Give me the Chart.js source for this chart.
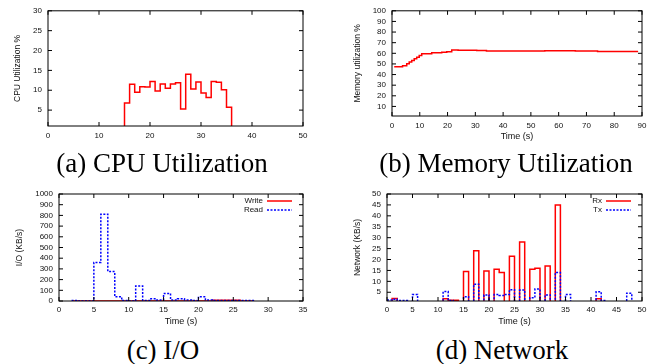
<!DOCTYPE html>
<html>
<head>
<meta charset="utf-8">
<script src="https://cdn.jsdelivr.net/npm/chart.js@4.4.1/dist/chart.umd.min.js"></script>
<style>
  body { margin: 0; background: #fff; width: 657px; height: 364px; position: relative; overflow: hidden; }
  canvas { position: absolute; }
  .cap { position: absolute; font-family: "Liberation Serif", "Times New Roman", serif; font-size: 27px;
         line-height: 27px; white-space: nowrap; transform: translateX(-50%); color: #000; }
</style>
</head>
<body>
<canvas id="cpu" width="330" height="150" style="left:0;top:0"></canvas>
<canvas id="mem" width="327" height="150" style="left:330px;top:0"></canvas>
<canvas id="io" width="330" height="150" style="left:0;top:180px"></canvas>
<canvas id="net" width="327" height="150" style="left:330px;top:180px"></canvas>
<div class="cap" style="left:162px;top:150px">(a) CPU Utilization</div>
<div class="cap" style="left:506px;top:150px">(b) Memory Utilization</div>
<div class="cap" style="left:163px;top:337px">(c) I/O</div>
<div class="cap" style="left:502px;top:337px">(d) Network</div>
<script>
const $ = id => document.getElementById(id);

// (a) CPU - value holds from time[i] to time[i+1]
const cpuTime = [14, 15, 16, 17, 18, 19, 20, 21, 22, 23, 24, 25, 26, 27, 28, 29, 30, 31, 32, 33, 34, 35, 36];
const cpuUtil = [0, 6.8, 11.5, 9.5, 10.9, 10.8, 12.2, 9.8, 11.6, 10.5, 11.6, 11.9, 5.3, 14.0, 10.3, 12.1, 9.3, 8.2, 12.2, 12.0, 10.1, 5.7, 0];
const cpuXTicks = [0, 10, 20, 30, 40, 50];
const cpuYTicks = [5, 10, 15, 20, 25, 30];

// (b) memory
const memTime = [0.8, 3.8, 5.3, 6.2, 7.1, 8.0, 8.9, 9.8, 10.7, 14.3, 17.9, 19.7, 21.5, 23.8, 30.5, 34, 55, 66, 74, 88.6];
const memUtil = [47.4, 48.3, 50.2, 51.7, 53.3, 54.9, 56.4, 57.9, 59.5, 60.5, 61, 61.5, 63, 62.8, 62.6, 62.2, 62.5, 62.2, 61.7, 61.7];
const memXTicks = [0, 10, 20, 30, 40, 50, 60, 70, 80, 90];
const memYTicks = [10, 20, 30, 40, 50, 60, 70, 80, 90, 100];

// (c) I/O
const writeTime = [2, 22, 26, 28];
const writeKBs = [0, 6, 0, 0];
const readTime = [1.8, 2.8, 5, 6, 7, 8, 9, 10, 11, 12, 13, 14, 15, 16, 17, 18, 19, 20, 21, 22, 28];
const readKBs = [5, 0, 360, 810, 275, 40, 5, 0, 140, 5, 20, 10, 70, 10, 20, 10, 5, 40, 10, 5, 0];
const ioXTicks = [0, 5, 10, 15, 20, 25, 30, 35];
const ioYTicks = [0, 100, 200, 300, 400, 500, 600, 700, 800, 900, 1000];

// (d) network
const rxTime = [0, 1, 2, 11, 12, 14, 15, 16, 17, 18, 19, 20, 21, 22, 23, 24, 25, 26, 27, 28, 29, 30, 31, 32, 33, 34, 41, 42, 50];
const rxKBs = [0, 2.2, 0, 2, 1.3, 0, 14.5, 0, 24, 0, 14.7, 0, 15.5, 14, 0, 21.5, 0, 28, 0, 15.5, 16, 0, 17, 0, 45, 0, 2, 0, 0];
const txTime = [0, 1, 2, 4, 5, 6, 11, 12, 13, 15, 16, 17, 18, 19, 20, 21, 22, 23, 24, 25, 26, 27, 28, 29, 30, 31, 32, 33, 34, 35, 36, 41, 42, 43, 47, 48, 50];
const txKBs = [1.5, 1.8, 1.2, 0, 4, 0, 5.3, 1.2, 0, 3, 0, 8.7, 0, 3.8, 0, 4, 3.5, 4, 6.2, 0, 6, 0, 2.5, 6.5, 0, 3.8, 0, 14, 0, 4, 0, 5.2, 1.2, 0, 4.6, 0, 0];
const netXTicks = [0, 5, 10, 15, 20, 25, 30, 35, 40, 45, 50];
const netYTicks = [5, 10, 15, 20, 25, 30, 35, 40, 45, 50];

const toPoints = (xs, ys) => xs.map((x, i) => ({ x, y: ys[i] }));
const sans = 'Liberation Sans, Arial, Helvetica, sans-serif';

// gnuplot style box with inward ticks on all four sides
const frame = {
  id: 'frame',
  afterDraw(chart) {
    const { ctx, chartArea: a, scales } = chart;
    ctx.save();
    ctx.strokeStyle = '#000';
    ctx.lineWidth = 1;
    ctx.strokeRect(a.left, a.top, a.right - a.left, a.bottom - a.top);
    ctx.beginPath();
    scales.x.ticks.forEach(t => {
      const px = scales.x.getPixelForValue(t.value);
      ctx.moveTo(px, a.bottom); ctx.lineTo(px, a.bottom - 4);
      ctx.moveTo(px, a.top); ctx.lineTo(px, a.top + 4);
    });
    scales.y.ticks.forEach(t => {
      const py = scales.y.getPixelForValue(t.value);
      ctx.moveTo(a.left, py); ctx.lineTo(a.left + 4, py);
      ctx.moveTo(a.right, py); ctx.lineTo(a.right - 4, py);
    });
    ctx.stroke();
    ctx.restore();
  }
};

// key in the top right corner: text then line sample
const keyBox = {
  id: 'keyBox',
  afterDraw(chart) {
    const { ctx, chartArea: a } = chart;
    ctx.save();
    ctx.font = '8px ' + sans;
    ctx.textAlign = 'right';
    ctx.textBaseline = 'middle';
    chart.data.datasets.forEach((ds, i) => {
      const y = a.top + 7 + 9 * i;
      ctx.fillStyle = '#111';
      ctx.fillText(ds.label, a.right - 40, y);
      ctx.strokeStyle = ds.borderColor;
      ctx.lineWidth = ds.borderWidth;
      ctx.setLineDash(ds.borderDash || []);
      ctx.beginPath();
      ctx.moveTo(a.right - 36, y);
      ctx.lineTo(a.right - 11, y);
      ctx.stroke();
    });
    ctx.restore();
  }
};

function panel(id, c) {
  return new Chart($(id), {
    type: 'line',
    data: {
      datasets: c.sets.map(s => ({
        label: s.label,
        data: toPoints(s.xs, s.ys),
        stepped: true,
        borderColor: s.color,
        borderWidth: 1.5,
        borderDash: s.dash || [],
        pointRadius: 0,
        fill: false,
        order: s.order || 0
      }))
    },
    options: {
      responsive: false,
      animation: false,
      events: [],
      layout: { padding: c.pad },
      plugins: { legend: { display: false }, tooltip: { enabled: false } },
      scales: {
        x: {
          type: 'linear', min: c.xMin, max: c.xMax,
          grid: { display: false, drawTicks: false }, border: { display: false },
          afterBuildTicks: s => { s.ticks = c.xTicks.map(v => ({ value: v })); },
          afterFit: s => { s.height = c.xH; },
          ticks: { font: { family: sans, size: 8 }, color: '#111', padding: c.xPad, maxRotation: 0, autoSkip: false,
                   callback: v => String(v) },
          title: { display: !!c.xTitle, text: c.xTitle, color: '#111', font: { family: sans, size: 9 }, padding: 0 }
        },
        y: {
          type: 'linear', min: c.yMin, max: c.yMax,
          grid: { display: false, drawTicks: false }, border: { display: false },
          afterBuildTicks: s => { s.ticks = c.yTicks.map(v => ({ value: v })); },
          afterFit: s => { s.width = c.yW; },
          ticks: { font: { family: sans, size: 8 }, color: '#111', padding: 6, autoSkip: false,
                   callback: v => String(v) },
          title: { display: true, text: c.yTitle, color: '#111', font: { family: sans, size: 8.5 }, padding: 0 }
        }
      }
    },
    plugins: c.key ? [frame, keyBox] : [frame]
  });
}

panel('cpu', {
  sets: [{ label: 'CPU', xs: cpuTime, ys: cpuUtil, color: '#ff0000' }],
  xMin: 0, xMax: 50, yMin: 1, yMax: 30, xTicks: cpuXTicks, yTicks: cpuYTicks,
  yTitle: 'CPU Utilization %', xTitle: '',
  pad: { left: 13, right: 27, top: 10, bottom: 0 }, yW: 35, xH: 24, xPad: 5
});

panel('mem', {
  sets: [{ label: 'Memory', xs: memTime, ys: memUtil, color: '#ff0000' }],
  xMin: 0, xMax: 90, yMin: 1, yMax: 100, xTicks: memXTicks, yTicks: memYTicks,
  yTitle: 'Memory utilization %', xTitle: 'Time (s)',
  pad: { left: 23, right: 15, top: 10, bottom: 7.7 }, yW: 39, xH: 26.3, xPad: 4.5
});

panel('io', {
  sets: [
    { label: 'Write', xs: writeTime, ys: writeKBs, color: '#ff0000', order: 1 },
    { label: 'Read', xs: readTime, ys: readKBs, color: '#0000ff', dash: [2, 1.5], order: 0 }
  ],
  xMin: 0, xMax: 35, yMin: 0, yMax: 1000, xTicks: ioXTicks, yTicks: ioYTicks,
  yTitle: 'I/O (KB/s)', xTitle: 'Time (s)', key: true,
  pad: { left: 14.5, right: 27, top: 14, bottom: 2.9 }, yW: 44.5, xH: 26.1, xPad: 3.5
});

panel('net', {
  sets: [
    { label: 'Rx', xs: rxTime, ys: rxKBs, color: '#ff0000', order: 1 },
    { label: 'Tx', xs: txTime, ys: txKBs, color: '#0000ff', dash: [2, 1.5], order: 0 }
  ],
  xMin: 0, xMax: 50, yMin: 1, yMax: 50, xTicks: netXTicks, yTicks: netYTicks,
  yTitle: 'Network (KB/s)', xTitle: 'Time (s)', key: true,
  pad: { left: 23, right: 15, top: 14, bottom: 2.9 }, yW: 34, xH: 26.1, xPad: 3.5
});
</script>
</body>
</html>
